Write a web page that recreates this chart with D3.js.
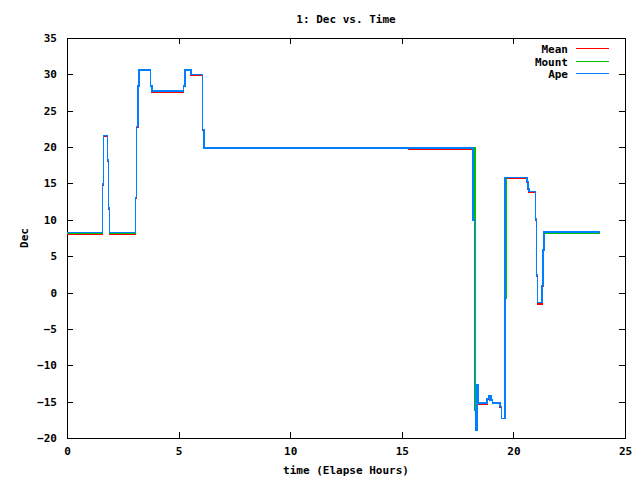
<!DOCTYPE html>
<html>
<head>
<meta charset="utf-8">
<script src="https://cdn.jsdelivr.net/npm/d3@7"></script>
<style>
  body { margin: 0; background: #fff; }
  text { font-family: "DejaVu Sans Mono", "Liberation Mono", monospace; font-weight: bold; font-size: 11px; fill: #000; }
</style>
</head>
<body>
<svg id="chart" width="640" height="480"></svg>
<script>
// elapsed hours where a value changes (held until the next entry)
let hours = [0, 1.60, 1.63, 1.81, 1.87, 1.90, 3.08, 3.12, 3.17, 3.23, 3.75, 3.81, 5.21, 5.29, 5.56, 6.06, 6.14, 15.32,
  18.20, 18.25, 18.28, 18.31, 18.33, 18.37, 18.42, 18.82, 18.88, 18.92, 18.96, 19.00, 19.06, 19.39, 19.46,
  19.63, 19.66, 19.70, 20.60, 20.65, 20.69, 21.00, 21.03, 21.08, 21.28, 21.32, 21.37, 23.88];
let mean = [8.05, 14.8, 21.45, 18.1, 11.5, 8.05, 13.0, 22.7, 28.3, 30.5, 28.3, 27.55, 28.3, 30.5, 29.9, 22.3, 19.8, 19.7,
  11.1, -6.5, -16.2, -16.2, -16.2, -15.35, -15.35, -14.65, -14.25, -14.85, -14.25, -14.85, -15.25, -15.75, -17.35,
  15.7, 15.7, 15.7, 15.15, 14.15, 13.75, 10.0, 2.3, -1.55, 0.9, 5.75, 8.15, 8.15];
let mount = [8.2, 14.9, 21.6, 18.2, 11.6, 8.2, 13.1, 22.8, 28.4, 30.6, 28.4, 27.7, 28.4, 30.6, 30.0, 22.4, 19.85, 19.85,
  19.85, 19.85, -6.5, -18.0, -18.0, -12.7, -15.2, -14.6, -14.2, -14.8, -14.2, -14.8, -15.2, -15.7, -17.3,
  -0.75, 11.8, 15.85, 15.3, 14.3, 13.9, 10.1, 2.4, -1.4, 1.0, 5.85, 8.2, 8.2];
let ape = [8.25, 14.9, 21.6, 18.2, 11.6, 8.25, 13.1, 22.8, 28.4, 30.6, 28.4, 27.7, 28.4, 30.6, 30.0, 22.4, 19.85, 19.85,
  10.0, -16.2, -16.2, -16.2, -18.9, -12.7, -15.2, -14.6, -14.2, -14.8, -14.2, -14.8, -15.2, -15.7, -17.3,
  15.85, 15.85, 15.85, 15.3, 14.3, 13.9, 10.1, 2.4, -1.4, 1.0, 5.85, 8.3, 8.3];

let seriesNames = ["Mean", "Mount", "Ape"];
let seriesColors = ["#ff0000", "#00c000", "#0080ff"];
let xTicks = [0, 5, 10, 15, 20, 25];
let yTicks = [-20, -15, -10, -5, 0, 5, 10, 15, 20, 25, 30, 35];

let plotLeft = 67, plotRight = 625, plotTop = 38, plotBottom = 438;

let svg = d3.select("#chart");

let x = d3.scaleLinear().domain([0, 25]).range([plotLeft, plotRight]);
let y = d3.scaleLinear().domain([-20, 35]).range([plotBottom, plotTop]);

// axes, ticks pointing inward and mirrored on top/right like gnuplot
svg.append("g").attr("transform", "translate(0," + plotBottom + ")")
  .call(d3.axisBottom(x).tickValues(xTicks).tickSizeInner(-6).tickSizeOuter(0).tickPadding(9));
svg.append("g").attr("transform", "translate(" + plotLeft + ",0)")
  .call(d3.axisLeft(y).tickValues(yTicks).tickSizeInner(-6).tickSizeOuter(0).tickPadding(10));
svg.append("g").attr("transform", "translate(0," + plotTop + ")")
  .call(d3.axisTop(x).tickValues(xTicks).tickSizeInner(-6).tickSizeOuter(0).tickFormat(""));
svg.append("g").attr("transform", "translate(" + plotRight + ",0)")
  .call(d3.axisRight(y).tickValues(yTicks).tickSizeInner(-6).tickSizeOuter(0).tickFormat(""));
svg.selectAll(".domain").remove();
svg.selectAll(".tick line").attr("stroke", "#000").attr("shape-rendering", "crispEdges");
svg.selectAll(".tick text").attr("font-family", null).attr("font-size", null);

svg.append("rect")
  .attr("x", plotLeft).attr("y", plotTop).attr("width", plotRight - plotLeft).attr("height", plotBottom - plotTop)
  .attr("fill", "none").attr("stroke", "#000").attr("shape-rendering", "crispEdges");

// data lines, Ape drawn last so it sits on top
let allSeries = [mean, mount, ape];
let line = d3.line().curve(d3.curveStepAfter);
allSeries.forEach(function(vals, k) {
  svg.append("path")
    .attr("d", line(hours.map(function(h, i) { return [x(h), y(vals[i])]; })))
    .attr("fill", "none")
    .attr("stroke", seriesColors[k])
    .attr("stroke-width", 1.5)
    .attr("shape-rendering", "crispEdges");
});

// legend
let legend = svg.append("g");
seriesNames.forEach(function(name, k) {
  let ly = Math.round(49 + k * 12.7);
  legend.append("text").attr("x", 568).attr("y", ly).attr("text-anchor", "end")
    .attr("dominant-baseline", "central").text(name);
  legend.append("line").attr("x1", 576).attr("x2", 609).attr("y1", ly - 0.5).attr("y2", ly - 0.5)
    .attr("stroke", seriesColors[k]).attr("stroke-width", 1).attr("shape-rendering", "crispEdges");
});

// titles
svg.append("text").attr("x", (plotLeft + plotRight) / 2).attr("y", 19).attr("text-anchor", "middle")
  .attr("dominant-baseline", "central").text("1: Dec vs. Time");
svg.append("text").attr("x", (plotLeft + plotRight) / 2).attr("y", 470).attr("text-anchor", "middle")
  .attr("dominant-baseline", "central").text("time (Elapse Hours)");
svg.append("text").attr("transform", "translate(24," + (plotTop + plotBottom) / 2 + ") rotate(-90)")
  .attr("text-anchor", "middle").attr("dominant-baseline", "central").text("Dec");
</script>
</body>
</html>
